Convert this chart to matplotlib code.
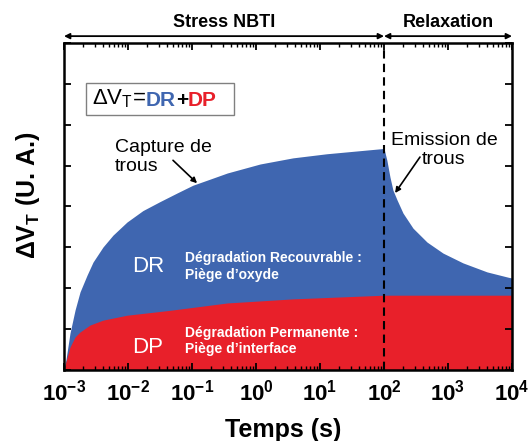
import matplotlib
matplotlib.use('Agg')
from matplotlib import pyplot as plt
from matplotlib.patches import Rectangle
import numpy as np

plt.rcParams['font.family'] = ['Liberation Sans', 'DejaVu Sans']
plt.rcParams['mathtext.default'] = 'regular'

# DR + DP (total) during stress
t_stress = [1e-3, 1.07e-3, 1.24e-3, 1.49e-3, 1.78e-3, 2.29e-3, 2.84e-3, 4.07e-3, 5.83e-3,
            9.64e-3, 1.71e-2, 3.16e-2, 5.83e-2, 0.103, 0.2, 0.356, 1.16, 3.78, 12.7, 100]
v_stress = [0.05, 0.24, 0.90, 1.47, 1.91, 2.32, 2.64, 3.01, 3.30,
            3.62, 3.90, 4.12, 4.33, 4.52, 4.68, 4.82, 5.04, 5.19, 5.29, 5.42]
# DR + DP (total) during relaxation
t_relax = [100, 111, 124, 138, 160, 198, 284, 470, 836, 1715, 4070, 8700, 1e4]
v_relax = [5.42, 5.13, 4.72, 4.40, 4.16, 3.84, 3.47, 3.13, 2.86, 2.62, 2.40, 2.27, 2.25]
# DP (permanent part)
t_dp = [1e-3, 1.07e-3, 1.24e-3, 1.49e-3, 1.78e-3, 2.55e-3, 4.07e-3, 9.64e-3, 4.53e-2,
        0.356, 3.78, 100, 1e4]
v_dp = [0.0, 0.20, 0.56, 0.81, 0.93, 1.10, 1.22, 1.34, 1.46, 1.64, 1.74, 1.83, 1.83]

xticks = [1e-3, 1e-2, 1e-1, 1e0, 1e1, 1e2, 1e3, 1e4]
xlabels = ['10$^{%d}$' % k for k in range(-3, 5)]

blue = '#3F66B0'
red = '#E8202A'

fig = plt.figure(figsize=(5.29, 4.41), dpi=100)
ax = fig.add_axes([64/529, 1-370/441, 448/529, 327/441])

t_tot = t_stress + t_relax[1:]
v_tot = v_stress + v_relax[1:]
ax.fill_between(t_tot, 0, v_tot, color=blue, lw=0)
ax.fill_between(t_dp, 0, v_dp, color=red, lw=0)

ax.axvline(100, color='black', ls='--', lw=1.5, dashes=(4, 2.5))

ax.set_xscale('log')
ax.set_xlim(1e-3, 1e4)
ax.set_ylim(0, 8)
ax.set_xticks(xticks)
ax.set_xticklabels(xlabels, fontsize=16, fontweight='bold')
ax.set_yticks(range(9))
ax.set_yticklabels([])
ax.tick_params(which='major', direction='in', length=5, width=1.3, top=True, right=True, pad=7)
ax.tick_params(which='minor', direction='in', length=3, width=1, top=True, right=False)
ax.tick_params(axis='y', which='minor', left=False, right=False)
for s in ax.spines.values():
    s.set_linewidth(1.8)

ax.set_xlabel('Temps (s)', fontsize=18, fontweight='bold')
ax.xaxis.set_label_coords(0.49, -0.147)
ax.set_ylabel(r'$\Delta$V$_T$ (U. A.)', fontsize=18, fontweight='bold')
ax.yaxis.set_label_coords(-0.05, 0.535)

# phase arrows above the plot
for a, b in [(1e-3, 100), (100, 1e4)]:
    ax.annotate('', xy=(a, 1.021), xytext=(b, 1.021), xycoords=('data', 'axes fraction'),
                arrowprops=dict(arrowstyle='<|-|>', lw=1.3, color='black', mutation_scale=8,
                                shrinkA=0, shrinkB=0), annotation_clip=False)
ax.text(0.316, 1.064, 'Stress NBTI', transform=ax.get_xaxis_transform(), ha='center', va='center',
        fontsize=13, fontweight='bold')
ax.text(1000, 1.064, 'Relaxation', transform=ax.get_xaxis_transform(), ha='center', va='center',
        fontsize=13, fontweight='bold')

# equation box
ax.add_patch(Rectangle((0.049, 0.78), 0.33, 0.098, transform=ax.transAxes, facecolor='white',
                       edgecolor='#808080', lw=1))
t1 = ax.text(0.062, 0.829, r'$\Delta$V$_T$=', transform=ax.transAxes, ha='left', va='center', fontsize=16)
t2 = ax.annotate('DR', xy=(1, 0), xycoords=t1, va='bottom', ha='left', fontsize=15,
                 fontweight='bold', color=blue)
t3 = ax.annotate('+', xy=(1, 0), xycoords=t2, va='bottom', ha='left', fontsize=15,
                 fontweight='bold', color='black')
ax.annotate('DP', xy=(1, 0), xycoords=t3, va='bottom', ha='left', fontsize=15,
            fontweight='bold', color=red)

# labels inside areas
ax.text(0.0205, 2.52, 'DR', color='white', fontsize=16, ha='center', va='center')
ax.text(0.0776, 2.53, 'Dégradation Recouvrable :\nPiège d’oxyde', color='white', fontsize=10,
        fontweight='bold', ha='left', va='center', linespacing=1.2)
ax.text(0.0205, 0.56, 'DP', color='white', fontsize=16, ha='center', va='center')
ax.text(0.0776, 0.70, 'Dégradation Permanente :\nPiège d’interface', color='white', fontsize=10,
        fontweight='bold', ha='left', va='center', linespacing=1.2)

# annotations
ax.text(0.00627, 5.21, 'Capture de\ntrous', fontsize=14, ha='left', va='center', linespacing=1.1)
ax.annotate('', xy=(0.12, 4.57), xytext=(0.0505, 5.13),
            arrowprops=dict(arrowstyle='-|>', lw=1.2, color='black', mutation_scale=8, shrinkA=0, shrinkB=0))
ax.text(866, 5.38, 'Emission de\ntrous', fontsize=14, ha='center', va='center', linespacing=1.1)
ax.annotate('', xy=(149, 4.33), xytext=(365, 5.21),
            arrowprops=dict(arrowstyle='-|>', lw=1.2, color='black', mutation_scale=8, shrinkA=0, shrinkB=0))

fig.savefig('out.png', dpi=100)
